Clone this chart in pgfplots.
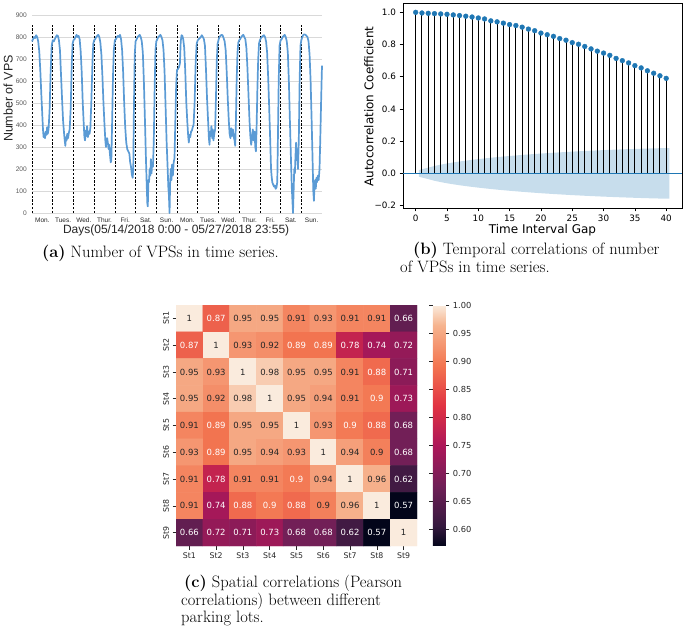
\documentclass[border=0pt]{standalone}
\usepackage{fontspec}
\usepackage{pgfplots}
\pgfplotsset{compat=1.18}
\usepackage{pgfplotstable}
\newfontfamily\arial{Liberation Sans}
\newfontfamily\dejavu{DejaVu Sans}
\definecolor{xlblue}{HTML}{5B9BD5}
\definecolor{czero}{HTML}{1F77B4}
\definecolor{band}{HTML}{C7DDEC}
\definecolor{sbdark}{gray}{0.15}
\definecolor{gridc}{RGB}{217,217,217}
\definecolor{tickgray}{RGB}{89,89,89}
\pgfplotsset{
  colormap={rocket}{rgb255(0cm)=(3,5,26); rgb255(0.83cm)=(53,25,62); rgb255(2.5cm)=(112,31,87); rgb255(4.17cm)=(173,23,89); rgb255(5.83cm)=(225,51,66); rgb255(7.5cm)=(243,118,81); rgb255(9.17cm)=(246,180,143); rgb255(10cm)=(250,235,221)}
}
\newcommand{\capfont}{\fontsize{16.5}{17.5}\selectfont}

\pgfplotstableread{
x y
0 780
0.05 790
0.1 800
0.15 795
0.2 808
0.25 800
0.3 780
0.35 735
0.4 650
0.45 540
0.5 440
0.53 380
0.56 345
0.6 360
0.63 340
0.66 370
0.7 355
0.73 390
0.76 360
0.8 380
0.85 470
0.9 640
0.95 760
1 785
1.05 780
1.1 790
1.15 800
1.2 808
1.25 805
1.3 785
1.35 740
1.4 630
1.45 520
1.5 420
1.55 360
1.58 330
1.61 305
1.64 345
1.67 330
1.7 360
1.74 340
1.78 365
1.82 380
1.87 480
1.92 680
1.96 770
2 785
2.05 790
2.1 800
2.15 810
2.2 800
2.25 805
2.3 790
2.35 735
2.4 640
2.45 500
2.5 400
2.53 345
2.56 330
2.6 375
2.63 350
2.66 395
2.7 345
2.74 370
2.78 360
2.82 390
2.87 520
2.92 690
2.96 770
3 785
3.05 790
3.1 800
3.15 805
3.2 810
3.25 800
3.3 775
3.35 720
3.4 620
3.45 500
3.5 400
3.54 330
3.57 300
3.6 330
3.63 340
3.66 320
3.7 290
3.73 310
3.76 270
3.8 230
3.83 240
3.87 420
3.91 620
3.95 740
4 785
4.05 790
4.1 800
4.15 805
4.2 800
4.25 810
4.3 790
4.35 740
4.4 640
4.45 500
4.5 390
4.55 320
4.6 290
4.65 280
4.7 270
4.74 230
4.78 210
4.82 175
4.86 160
4.89 200
4.92 480
4.96 720
5 780
5.05 790
5.1 800
5.15 805
5.2 810
5.25 800
5.3 780
5.35 730
5.4 600
5.45 430
5.5 250
5.54 120
5.57 40
5.59 30
5.62 150
5.65 140
5.68 200
5.71 170
5.74 245
5.77 180
5.8 230
5.84 210
5.88 330
5.92 560
5.96 740
6 780
6.05 790
6.1 800
6.15 805
6.2 810
6.25 800
6.3 785
6.35 740
6.4 640
6.45 480
6.5 320
6.55 200
6.58 120
6.61 80
6.64 0
6.67 140
6.7 200
6.73 150
6.76 220
6.8 170
6.84 230
6.88 250
6.92 420
6.96 580
7 650
7.05 655
7.1 665
7.14 680
7.18 780
7.22 808
7.26 805
7.3 790
7.35 750
7.4 640
7.45 500
7.5 410
7.54 350
7.57 320
7.6 355
7.64 345
7.68 370
7.72 375
7.76 390
7.8 400
7.85 500
7.9 680
7.95 770
8 785
8.05 790
8.1 795
8.15 800
8.2 808
8.25 800
8.3 790
8.35 760
8.4 650
8.45 520
8.5 420
8.54 340
8.57 310
8.6 370
8.63 350
8.66 395
8.7 340
8.73 380
8.76 330
8.8 360
8.84 380
8.88 520
8.92 690
8.96 770
9 785
9.05 800
9.1 805
9.15 810
9.2 808
9.25 795
9.3 780
9.35 740
9.4 640
9.45 520
9.5 420
9.54 360
9.58 340
9.62 385
9.66 350
9.7 380
9.74 345
9.78 330
9.81 305
9.84 400
9.88 600
9.92 730
9.96 775
10 785
10.05 790
10.1 800
10.15 805
10.2 810
10.25 800
10.3 790
10.35 750
10.4 660
10.45 540
10.5 420
10.54 350
10.58 310
10.62 340
10.66 380
10.7 330
10.74 370
10.78 300
10.81 280
10.84 380
10.88 560
10.92 700
10.96 770
11 785
11.05 795
11.1 800
11.15 805
11.2 808
11.25 800
11.3 780
11.35 730
11.4 620
11.45 480
11.5 330
11.54 200
11.57 165
11.6 140
11.64 130
11.68 120
11.72 125
11.76 110
11.8 115
11.84 140
11.87 330
11.91 600
11.95 760
12 785
12.05 790
12.1 800
12.15 805
12.2 810
12.25 800
12.3 780
12.35 730
12.4 600
12.45 420
12.5 250
12.54 120
12.57 60
12.6 0
12.63 100
12.66 200
12.69 180
12.72 260
12.75 320
12.78 240
12.81 290
12.84 200
12.88 330
12.92 600
12.96 760
13 785
13.05 800
13.1 810
13.15 812
13.2 810
13.25 805
13.3 800
13.35 780
13.4 720
13.45 600
13.5 420
13.55 220
13.58 100
13.61 55
13.64 130
13.67 150
13.7 110
13.73 160
13.76 140
13.8 170
13.84 150
13.88 200
13.92 350
13.96 520
14 670
}\vpsdata

\pgfplotstableread{
lag r
0 1.000
1 0.996
2 0.994
3 0.992
4 0.990
5 0.988
6 0.984
7 0.980
8 0.976
9 0.971
10 0.965
11 0.959
12 0.947
13 0.941
14 0.933
15 0.924
16 0.918
17 0.908
18 0.896
19 0.886
20 0.871
21 0.861
22 0.851
23 0.837
24 0.827
25 0.812
26 0.802
27 0.788
28 0.773
29 0.759
30 0.747
31 0.733
32 0.714
33 0.700
34 0.686
35 0.669
36 0.655
37 0.637
38 0.622
39 0.606
40 0.590
}\acfdata

\pgfplotstableread{
x y c
0 0 1
1 0 0.87
2 0 0.95
3 0 0.95
4 0 0.91
5 0 0.93
6 0 0.91
7 0 0.91
8 0 0.66
0 1 0.87
1 1 1
2 1 0.93
3 1 0.92
4 1 0.89
5 1 0.89
6 1 0.78
7 1 0.74
8 1 0.72
0 2 0.95
1 2 0.93
2 2 1
3 2 0.98
4 2 0.95
5 2 0.95
6 2 0.91
7 2 0.88
8 2 0.71
0 3 0.95
1 3 0.92
2 3 0.98
3 3 1
4 3 0.95
5 3 0.94
6 3 0.91
7 3 0.896
8 3 0.73
0 4 0.91
1 4 0.89
2 4 0.95
3 4 0.95
4 4 1
5 4 0.93
6 4 0.897
7 4 0.88
8 4 0.68
0 5 0.93
1 5 0.89
2 5 0.95
3 5 0.94
4 5 0.93
5 5 1
6 5 0.94
7 5 0.904
8 5 0.68
0 6 0.91
1 6 0.78
2 6 0.91
3 6 0.91
4 6 0.897
5 6 0.94
6 6 1
7 6 0.96
8 6 0.62
0 7 0.91
1 7 0.74
2 7 0.88
3 7 0.896
4 7 0.88
5 7 0.904
6 7 0.96
7 7 1
8 7 0.57
0 8 0.66
1 8 0.72
2 8 0.71
3 8 0.73
4 8 0.68
5 8 0.68
6 8 0.62
7 8 0.57
8 8 1
}\corrdata

\pgfplotstableread{
x y l
1 0 0.87
8 0 0.66
0 1 0.87
4 1 0.89
5 1 0.89
6 1 0.78
7 1 0.74
8 1 0.72
7 2 0.88
8 2 0.71
7 3 0.9
8 3 0.73
1 4 0.89
6 4 0.9
7 4 0.88
8 4 0.68
1 5 0.89
8 5 0.68
1 6 0.78
4 6 0.9
8 6 0.62
1 7 0.74
2 7 0.88
3 7 0.9
4 7 0.88
8 7 0.57
0 8 0.66
1 8 0.72
2 8 0.71
3 8 0.73
4 8 0.68
5 8 0.68
6 8 0.62
7 8 0.57
}\whitelabels

\pgfplotstableread{
x y l
0 0 1
2 0 0.95
3 0 0.95
4 0 0.91
5 0 0.93
6 0 0.91
7 0 0.91
1 1 1
2 1 0.93
3 1 0.92
0 2 0.95
1 2 0.93
2 2 1
3 2 0.98
4 2 0.95
5 2 0.95
6 2 0.91
0 3 0.95
1 3 0.92
2 3 0.98
3 3 1
4 3 0.95
5 3 0.94
6 3 0.91
0 4 0.91
2 4 0.95
3 4 0.95
4 4 1
5 4 0.93
0 5 0.93
2 5 0.95
3 5 0.94
4 5 0.93
5 5 1
6 5 0.94
7 5 0.9
0 6 0.91
2 6 0.91
3 6 0.91
5 6 0.94
6 6 1
7 6 0.96
0 7 0.91
5 7 0.9
6 7 0.96
7 7 1
8 8 1
}\darklabels

\begin{document}
\begin{tikzpicture}
\useasboundingbox (0,0) rectangle (685pt,627pt);

% ---------------- Panel (a)
\begin{axis}[
  at={(32pt,414pt)}, anchor=south west,
  scale only axis, width=290pt, height=198pt,
  xmin=0, xmax=14, ymin=0, ymax=900,
  clip=false,
  axis line style={draw=none},
  ytick={0,100,...,900},
  ymajorgrids,
  major grid style={gridc, line width=0.7pt},
  major tick length=0pt,
  xtick={0.5,1.5,...,13.5},
  xticklabels={Mon.,Tues.,Wed.,Thur.,Fri.,Sat.,Sun.,Mon.,Tues.,Wed.,Thur.,Fri.,Sat.,Sun.},
  xticklabel style={font=\arial\fontsize{6.5}{7}\selectfont, text=black!85, inner sep=0pt, anchor=north, yshift=-5pt},
  yticklabel style={font=\arial\fontsize{6.6}{7}\selectfont, text=tickgray, inner sep=0pt, anchor=east, xshift=-5pt},
  /pgf/number format/assume math mode=true,
  xlabel={Days(05/14/2018 0:00 - 05/27/2018 23:55)},
  xlabel style={font=\arial\fontsize{12}{14}\selectfont, text=black!85, at={(axis description cs:0.497,-0.086)}, anchor=center},
  ylabel={Number of VPS},
  ylabel style={font=\arial\fontsize{12.5}{14}\selectfont, text=black!85, at={(axis description cs:-0.082,0.578)}, anchor=center},
]
\addplot[ycomb, black, line width=0.7pt, dash pattern=on 2.2pt off 1.6pt, mark=none]
  coordinates {(0,860) (1,860) (2,860) (3,860) (4,860) (5,860) (6,860) (7,860) (8,860) (9,860) (10,860) (11,860) (12,860) (13,860)};
\addplot[xlblue, line width=1.7pt, line join=round, mark=none] table[x=x, y=y] {\vpsdata};
\end{axis}

% ---------------- Panel (b)
\begin{axis}[
  at={(403pt,419pt)}, anchor=south west,
  scale only axis, width=279pt, height=205pt,
  xmin=-2.025, xmax=42.525, ymin=-0.215, ymax=1.058,
  axis line style={black, line width=0.6pt},
  xtick={0,5,10,15,20,25,30,35,40},
  xticklabels={0,5,10,15,20,25,30,35,40},
  ytick={-0.2,0,0.2,0.4,0.6,0.8,1.0},
  yticklabels={−0.2,0.0,0.2,0.4,0.6,0.8,1.0},
  tick align=outside, tick pos=left,
  major tick length=3.5pt,
  tick style={black, line width=0.6pt},
  ticklabel style={font=\dejavu\fontsize{8.8}{10}\selectfont},
  xlabel={Time Interval Gap},
  ylabel={Autocorrelation Coefficient},
  xlabel style={font=\dejavu\fontsize{12}{14}\selectfont, at={(axis description cs:0.5,-0.107)}, anchor=center},
  ylabel style={font=\dejavu\fontsize{12}{14}\selectfont, at={(axis description cs:-0.122,0.495)}, anchor=center},
]
\addplot[fill=band, draw=none] coordinates {
(0.5,0.0206) (2,0.0356) (3,0.0459) (4,0.0542) (5,0.0614) (6,0.0678) (7,0.0736) (8,0.0790) (9,0.0839) (10,0.0886)
(11,0.0929) (12,0.0970) (13,0.1009) (14,0.1045) (15,0.1080) (16,0.1113) (17,0.1145) (18,0.1175) (19,0.1204) (20,0.1231)
(21,0.1257) (22,0.1282) (23,0.1305) (24,0.1328) (25,0.1350) (26,0.1370) (27,0.1390) (28,0.1409) (29,0.1427) (30,0.1444)
(31,0.1460) (32,0.1476) (33,0.1490) (34,0.1504) (35,0.1517) (36,0.1530) (37,0.1542) (38,0.1553) (39,0.1563) (40.5,0.1573)
(40.5,-0.1573) (39,-0.1563) (38,-0.1553) (37,-0.1542) (36,-0.1530) (35,-0.1517) (34,-0.1504) (33,-0.1490) (32,-0.1476) (31,-0.1460)
(30,-0.1444) (29,-0.1427) (28,-0.1409) (27,-0.1390) (26,-0.1370) (25,-0.1350) (24,-0.1328) (23,-0.1305) (22,-0.1282) (21,-0.1257)
(20,-0.1231) (19,-0.1204) (18,-0.1175) (17,-0.1145) (16,-0.1113) (15,-0.1080) (14,-0.1045) (13,-0.1009) (12,-0.0970) (11,-0.0929)
(10,-0.0886) (9,-0.0839) (8,-0.0790) (7,-0.0736) (6,-0.0678) (5,-0.0614) (4,-0.0542) (3,-0.0459) (2,-0.0356) (0.5,-0.0206)
} -- cycle;
\addplot[ycomb, black, line width=0.9pt, mark=none] table[x=lag, y=r] {\acfdata};
\addplot[czero, line width=1pt, mark=none] coordinates {(-2.025,0) (42.525,0)};
\addplot[only marks, mark=*, mark size=2.4pt, czero, mark options={draw=czero, fill=czero}] table[x=lag, y=r] {\acfdata};
\end{axis}

% ---------------- Panel (c)
\begin{axis}[
  at={(176pt,81pt)}, anchor=south west,
  scale only axis, width=241pt, height=241pt,
  xmin=-0.5, xmax=8.5, ymin=-0.5, ymax=8.5, y dir=reverse,
  axis line style={draw=none},
  xtick={0,1,2,3,4,5,6,7,8}, ytick={0,1,2,3,4,5,6,7,8},
  xticklabels={St1,St2,St3,St4,St5,St6,St7,St8,St9},
  yticklabels={St1,St2,St3,St4,St5,St6,St7,St8,St9},
  tick align=outside, tick pos=left,
  major tick length=3.5pt,
  tick style={sbdark, line width=0.6pt},
  ticklabel style={font=\dejavu\fontsize{7.8}{9}\selectfont, text=sbdark},
  yticklabel style={rotate=90, anchor=south},
  colormap name=rocket,
  point meta min=0.57, point meta max=1,
  colorbar,
  colorbar style={
    at={(1.066,1)}, anchor=north west,
    width=13pt,
    axis line style={draw=none},
    ytick={0.6,0.65,0.7,0.75,0.8,0.85,0.9,0.95,1.0},
    yticklabels={0.60,0.65,0.70,0.75,0.80,0.85,0.90,0.95,1.00},
    tick align=outside, major tick length=3.5pt,
    tick style={sbdark, line width=0.6pt},
    yticklabel style={font=\dejavu\fontsize{8.3}{10}\selectfont, text=sbdark},
  },
]
\addplot[matrix plot*, mesh/cols=9, point meta=explicit] table[x=x, y=y, meta=c] {\corrdata};
\addplot[draw=none, mark=none, point meta=explicit symbolic, nodes near coords,
  every node near coord/.append style={anchor=center, inner sep=0pt, text=white, font=\dejavu\fontsize{8.5}{10}\selectfont}]
  table[x=x, y=y, meta=l] {\whitelabels};
\addplot[draw=none, mark=none, point meta=explicit symbolic, nodes near coords,
  every node near coord/.append style={anchor=center, inner sep=0pt, text=sbdark, font=\dejavu\fontsize{8.5}{10}\selectfont}]
  table[x=x, y=y, meta=l] {\darklabels};
\end{axis}

% ---------------- Captions
\node[anchor=base west, font=\capfont, inner sep=0pt] at (42pt,369.5pt) {\textbf{(a)} Number of VPSs in time series.};
\node[anchor=base west, font=\capfont, inner sep=0pt] at (413pt,372pt) {\textbf{(b)} Temporal correlations of number};
\node[anchor=base west, font=\capfont, inner sep=0pt] at (400pt,354.5pt) {of VPSs in time series.};
\node[anchor=base west, font=\capfont, inner sep=0pt] at (184pt,39.5pt) {\textbf{(c)} Spatial correlations (Pearson};
\node[anchor=base west, font=\capfont, inner sep=0pt] at (181pt,22pt) {correlations) between different};
\node[anchor=base west, font=\capfont, inner sep=0pt] at (181pt,4.5pt) {parking lots.};
\end{tikzpicture}
\end{document}
